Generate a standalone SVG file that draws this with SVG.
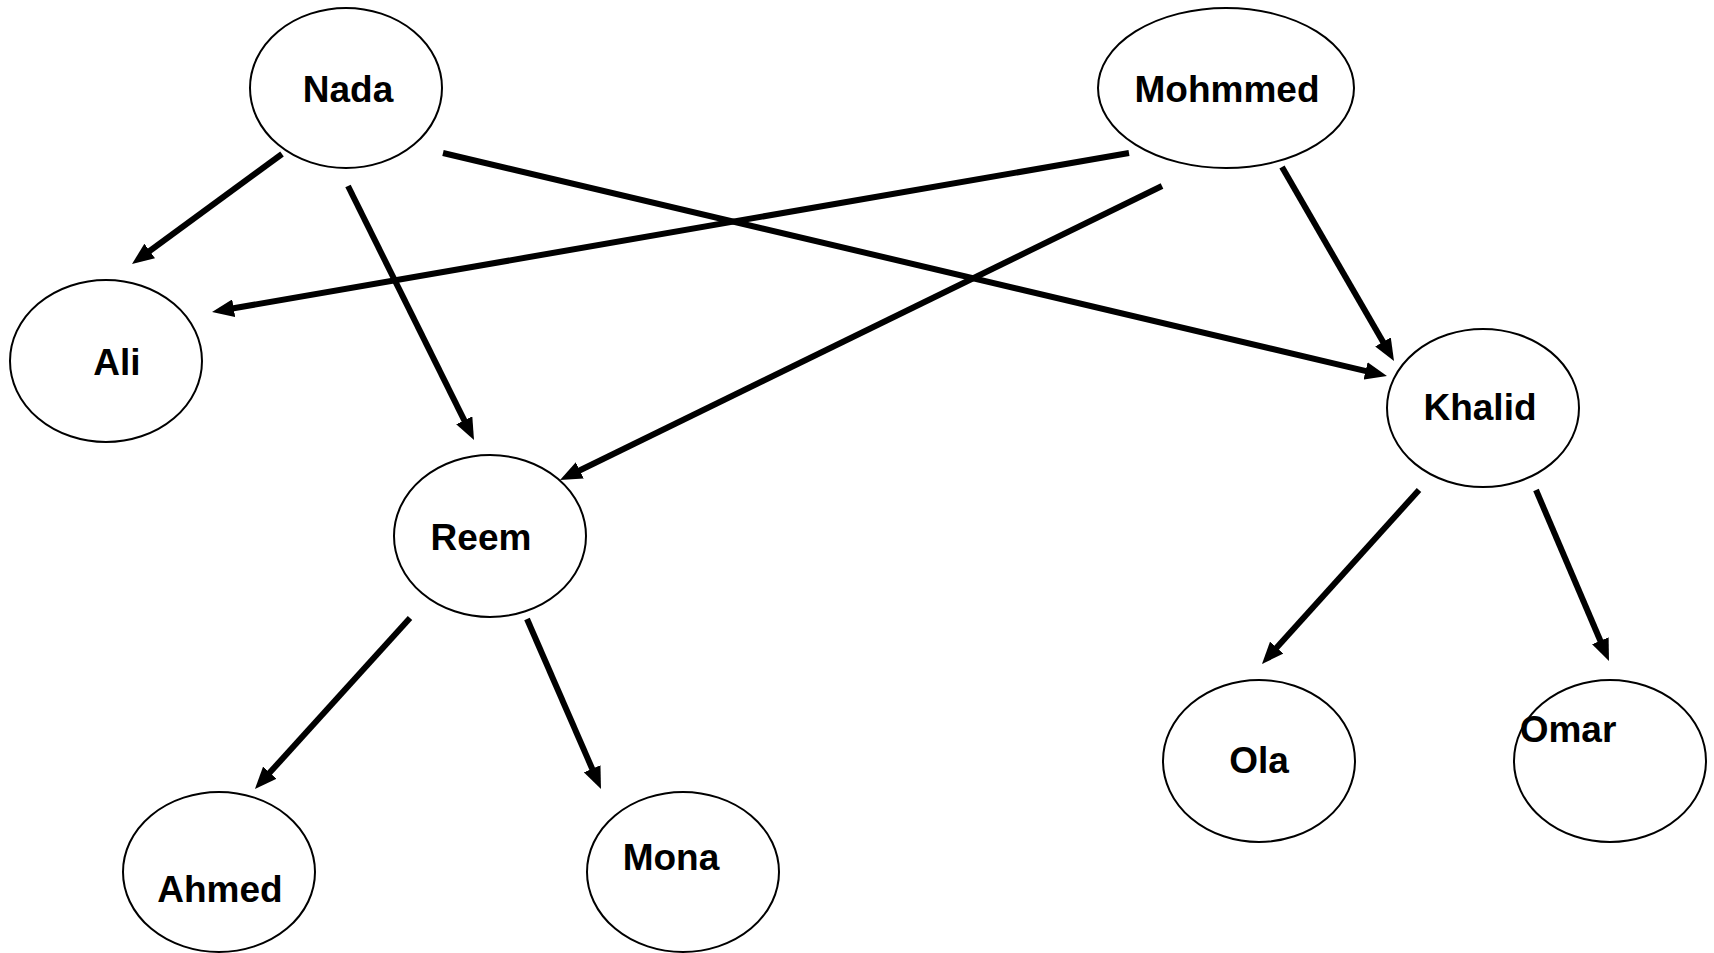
<svg xmlns="http://www.w3.org/2000/svg" width="1714" height="953" viewBox="0 0 1714 953">
<defs>
<style>
.node ellipse{fill:#fff;stroke:#000;stroke-width:2}
.node text{font-family:"Liberation Sans",Arial,sans-serif;font-weight:bold;font-size:37px;fill:#000;text-anchor:middle}
.edge{stroke:#000;stroke-width:6;fill:none;marker-end:url(#arrow)}
</style>
<marker id="arrow" viewBox="0 0 22 18" refX="6" refY="9" markerWidth="22" markerHeight="18" markerUnits="userSpaceOnUse" orient="auto">
<path d="M0,0 L22,9 L0,18 z" fill="#000"/>
</marker>
</defs>
<rect width="1714" height="953" fill="#fff"/>
<g id="nodes">
<g id="nada" class="node"><ellipse cx="346" cy="88" rx="96" ry="80"/><text x="348" y="102">Nada</text></g>
<g id="mohmmed" class="node"><ellipse cx="1226" cy="88" rx="128" ry="80"/><text x="1227" y="102">Mohmmed</text></g>
<g id="ali" class="node"><ellipse cx="106" cy="361" rx="96" ry="81"/><text x="117" y="375">Ali</text></g>
<g id="reem" class="node"><ellipse cx="490" cy="536" rx="96" ry="81"/><text x="481" y="550">Reem</text></g>
<g id="khalid" class="node"><ellipse cx="1483" cy="408" rx="96" ry="79"/><text x="1480" y="420">Khalid</text></g>
<g id="ahmed" class="node"><ellipse cx="219" cy="872" rx="96" ry="80"/><text x="220" y="902">Ahmed</text></g>
<g id="mona" class="node"><ellipse cx="683" cy="872" rx="96" ry="80"/><text x="671" y="870">Mona</text></g>
<g id="ola" class="node"><ellipse cx="1259" cy="761" rx="96" ry="81"/><text x="1259" y="773">Ola</text></g>
<g id="omar" class="node"><ellipse cx="1610" cy="761" rx="96" ry="81"/><text x="1568" y="742">Omar</text></g>
</g>
<g id="connectors">
<path class="edge" d="M282,154 L144.9,254.5"/>
<path class="edge" d="M348,186 L466.9,425.7"/>
<path class="edge" d="M443,153 L1371.4,372.3"/>
<path class="edge" d="M1129,153 L227.8,309.3"/>
<path class="edge" d="M1162,186 L574.4,473"/>
<path class="edge" d="M1282,167 L1386,347.1"/>
<path class="edge" d="M1419,490 L1272.7,652.1"/>
<path class="edge" d="M1536,490 L1602.7,646.3"/>
<path class="edge" d="M410,618 L265.7,777.1"/>
<path class="edge" d="M527,619 L594.6,774.3"/>
</g>
</svg>
